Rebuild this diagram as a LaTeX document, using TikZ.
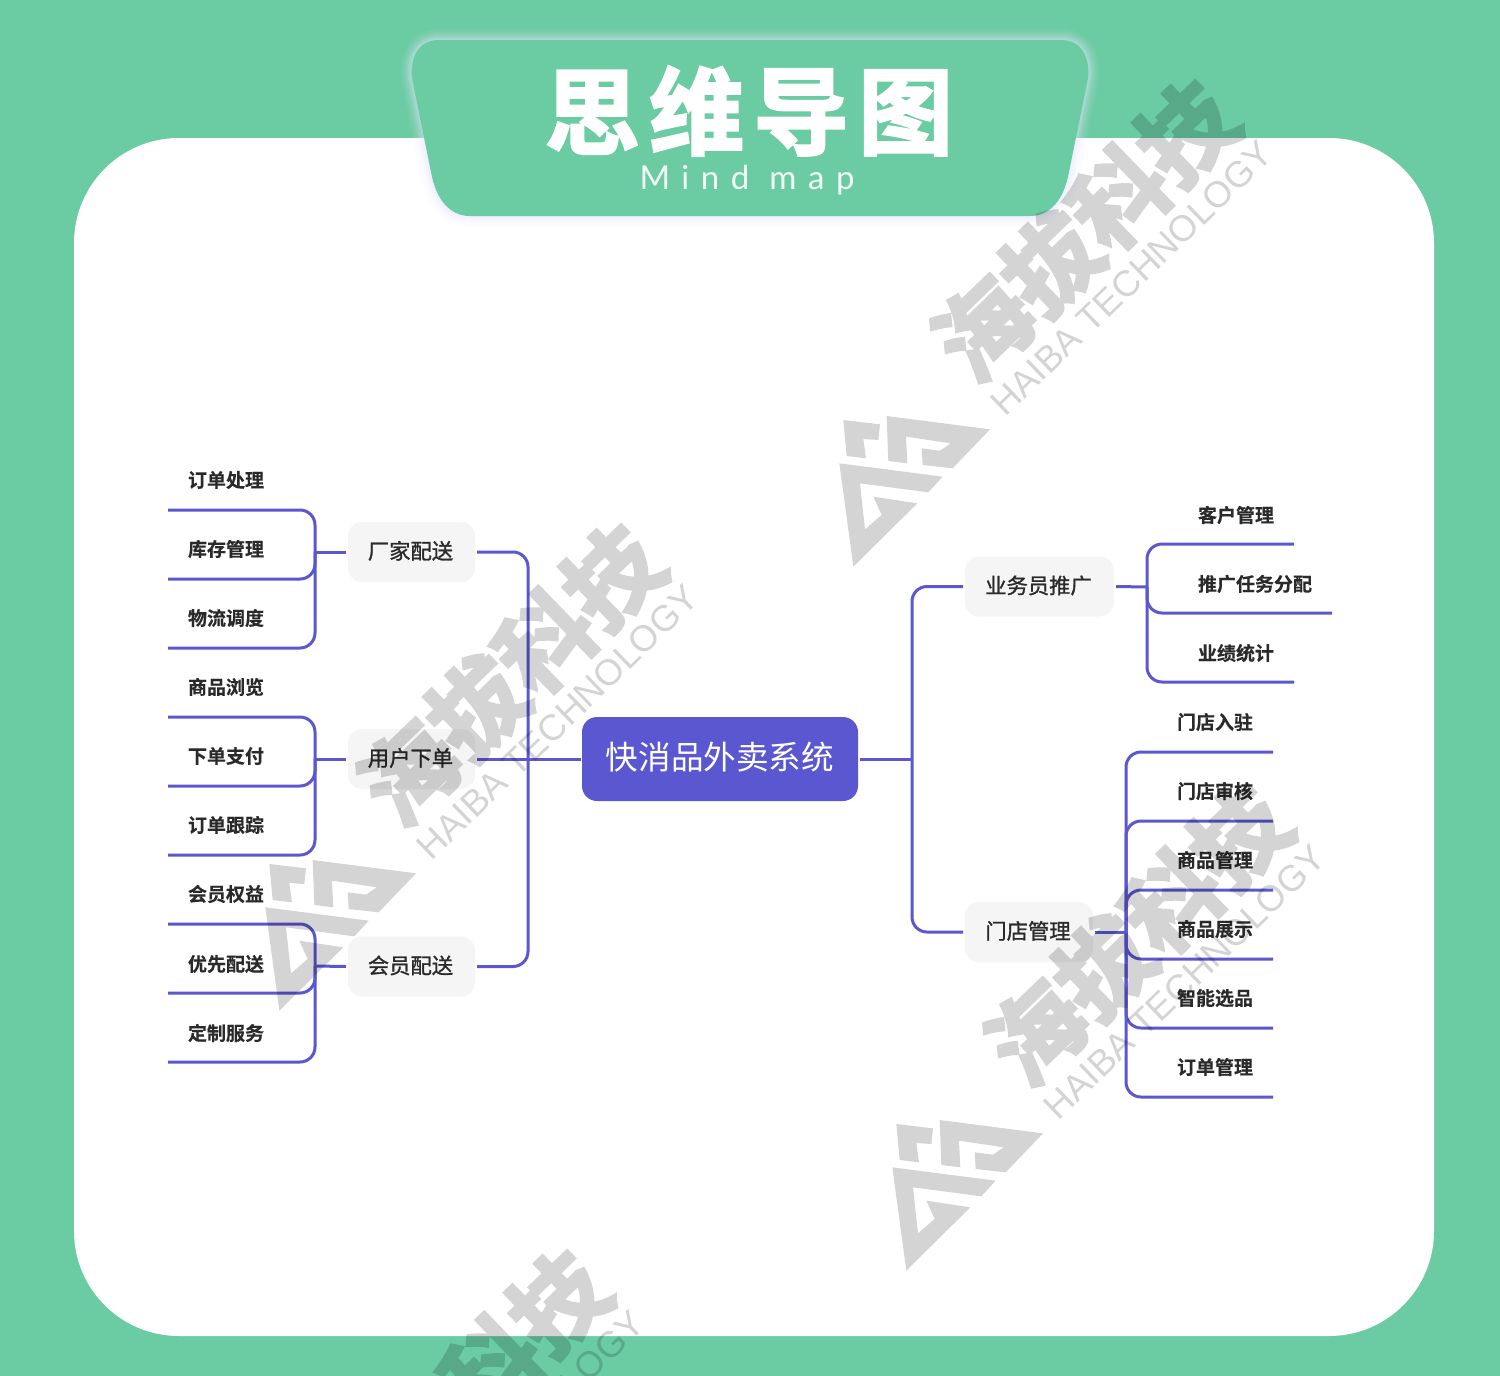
\documentclass[tikz,border=0pt]{standalone}
\usepackage{fontspec}
\setmainfont{Liberation Sans}
\newfontfamily\cjk{Noto Sans CJK SC}
\newfontfamily\cjkfat[FakeBold=2.6]{Noto Sans CJK SC Bold}
\newfontfamily\cjkwm[FakeBold=3.6]{Noto Sans CJK SC Bold}
\newfontfamily\cjkmed[FakeBold=1.2]{Noto Sans CJK SC}
\newfontfamily\cjkbold[FakeBold=0.25]{Noto Sans CJK SC Bold}
\newfontfamily\latinthin[LetterSpace=35]{Lato}
\usetikzlibrary{calc}
\definecolor{bggreen}{HTML}{6BCCA3}
\definecolor{wire}{HTML}{5B57D1}
\definecolor{pill}{HTML}{F5F5F5}
\definecolor{ink}{HTML}{2A2A2A}
\tikzset{
  link/.style={draw=wire,line width=3pt,rounded corners=15pt},
  rootbox/.style={fill=wire,rounded corners=15pt,minimum width=276pt,minimum height=84pt,inner sep=0pt,outer sep=1.5pt,text=white,text height=26pt,text depth=5.2pt,font=\cjk\fontsize{32.6}{33}\selectfont},
  midbox/.style={fill=pill,rounded corners=14pt,minimum height=60pt,inner sep=0pt,outer sep=2pt,text=ink,text height=18pt,text depth=4pt,execute at end node={\kern2pt},font=\cjkmed\fontsize{21.3}{22}\selectfont},
  lleaf/.style={anchor=south west,minimum height=60pt,inner ysep=0pt,inner xsep=20pt,outer sep=0pt,text=ink,font=\cjkbold\fontsize{19}{20}\selectfont},
  rleaf/.style={anchor=south east,minimum height=60pt,inner ysep=0pt,inner xsep=20pt,outer sep=0pt,text=ink,font=\cjkbold\fontsize{19}{20}\selectfont},
}
\newcommand{\tabpath}{(439,40) -- (1061,40) .. controls (1082,40) and (1090,58) .. (1088,78)
  -- (1069,172) .. controls (1064,200) and (1050,216) .. (1030,216)
  -- (470,216) .. controls (450,216) and (436,200) .. (431,172)
  -- (412,78) .. controls (410,58) and (418,40) .. (439,40) -- cycle}
\newcommand{\wmark}[2]{%
  \begin{scope}[transparency group,opacity=0.17]
  \begin{scope}[shift={(830+#1,60+#2)},x=0.33333pt,y=-0.33333pt]
    \fill[black] (40,1080)--(150,1093)--(145,1140)--(100,1137)--(108,1195)--(50,1188)--cycle;
    \fill[black] (170,1068)--(480,1108)--(368,1225)--(278,1215)--(275,1165)--(330,1172)--(362,1150)--(228,1130)--(232,1210)--(175,1203)--cycle;
    \fill[black] (28,1210)--(338,1250)--(295,1297)--(90,1270)--(105,1408)--(155,1365)--(130,1310)--(262,1330)--(70,1520)--cycle;
    \node[rotate=44,text=black,inner sep=0pt,font=\cjkwm\fontsize{94}{94}\selectfont] at (765,510) {海拔科技};
    \node[rotate=44,text=black,inner sep=0pt,font=\fontsize{36.5}{37}\selectfont] at (905,655) {HAIBA TECHNOLOGY};
  \end{scope}
  \end{scope}}
\begin{document}
\begin{tikzpicture}[x=1pt,y=-1pt]
\useasboundingbox (0,0) rectangle (1500,1376);
\clip (0,0) rectangle (1500,1376);
\fill[bggreen] (0,0) rectangle (1500,1376);
\fill[white,rounded corners=105pt] (74,138) rectangle (1434,1336);
% title tab glow
\foreach \w/\o in {22/0.07,17/0.09,12/0.12,8/0.16,4/0.22}{
  \draw[line width=\w pt,draw=white!90!blue,opacity=\o] \tabpath;
}
\fill[bggreen] \tabpath;
\node[inner sep=0pt,text=white] (title) at (749,111) {\cjkfat\addfontfeature{LetterSpace=10}\fontsize{95}{95}\selectfont 思维导图};
\node[inner sep=0pt,text=white!92!bggreen] (subtitle) at (747,180) {\latinthin\fontsize{33}{33}\selectfont Mind map};

% nodes
\node[rootbox] (root) at (720,759) {快消品外卖系统};
\node[midbox,minimum width=127pt] (m1) at (411.5,552) {厂家配送};
\node[midbox,minimum width=127pt] (m2) at (411.5,759) {用户下单};
\node[midbox,minimum width=127pt] (m3) at (411.5,966.5) {会员配送};
\node[midbox,minimum width=149pt] (m4) at (1039.5,586.5) {业务员推广};
\node[midbox,minimum width=128pt] (m5) at (1029,932) {门店管理};
\coordinate (hubL) at (528,759);
\coordinate (hubR) at (912,759);
\coordinate (h1) at (315,552);
\coordinate (h2) at (315,759);
\coordinate (h3) at (315,966);
\coordinate (h4) at (1147,587);
\coordinate (h5) at (1126,932);
% left leaves
\node[lleaf] (a1) at (168,510) {订单处理};
\node[lleaf] (a2) at (168,579) {库存管理};
\node[lleaf] (a3) at (168,648) {物流调度};
\node[lleaf] (b1) at (168,717) {商品浏览};
\node[lleaf] (b2) at (168,786) {下单支付};
\node[lleaf] (b3) at (168,855) {订单跟踪};
\node[lleaf] (c1) at (168,924) {会员权益};
\node[lleaf,minimum height=58pt] (c2) at (168,993) {优先配送};
\node[lleaf,minimum height=58pt] (c3) at (168,1062) {定制服务};
% right leaves
\node[rleaf,minimum height=58pt] (d1) at (1294,544) {客户管理};
\node[rleaf,minimum height=58pt] (d2) at (1332,613) {推广任务分配};
\node[rleaf,minimum height=58pt] (d3) at (1294,682) {业绩统计};
\node[rleaf] (e1) at (1273,752) {门店入驻};
\node[rleaf] (e2) at (1273,821) {门店审核};
\node[rleaf] (e3) at (1273,890) {商品管理};
\node[rleaf] (e4) at (1273,959) {商品展示};
\node[rleaf] (e5) at (1273,1028) {智能选品};
\node[rleaf] (e6) at (1273,1097) {订单管理};

% connectors
\draw[link] (root.west) -- (m2.east);
\draw[link] (m1.east) -| (hubL) |- (m3.east);
\draw[link] (root.east) -- (hubR);
\draw[link] (m4.west) -| (hubR) |- (m5.west);
\draw[link] (m1.west) -- (h1);
\draw[link] (m2.west) -- (h2);
\draw[link] (m3.west) -- (h3);
\draw[link] (m4.east) -- (h4);
\draw[link] (m5.east) -- (h5);
\foreach \h/\n in {h1/a1,h1/a2,h1/a3,h2/b1,h2/b2,h2/b3,h3/c1,h3/c2,h3/c3}
  \draw[link] (\h) |- (\n.south west);
\foreach \h/\n in {h4/d1,h4/d2,h4/d3,h5/e1,h5/e2,h5/e3,h5/e4,h5/e5,h5/e6}
  \draw[link] (\h) |- (\n.south east);

% watermarks
\wmark{0}{0}
\wmark{-574}{444}
\wmark{53}{704}
\wmark{-628}{1170}
\end{tikzpicture}
\end{document}
